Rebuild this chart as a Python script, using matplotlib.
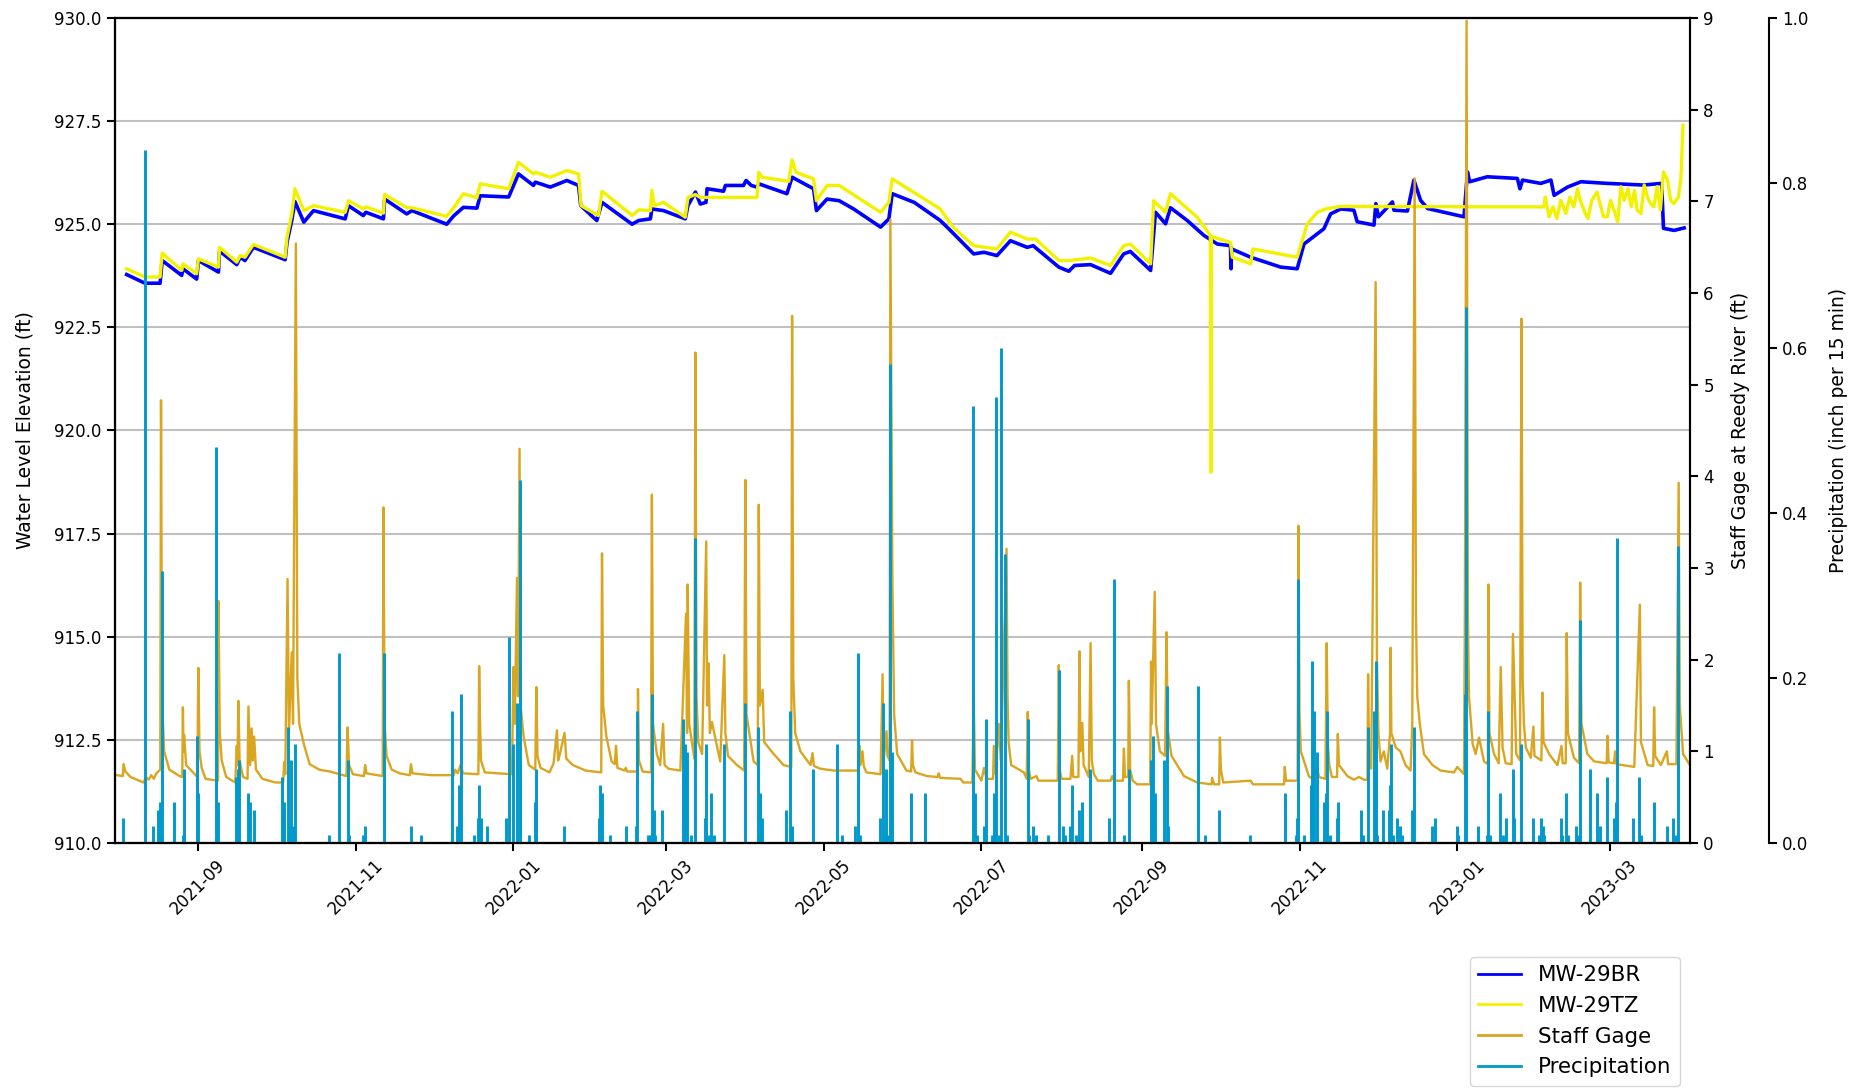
import matplotlib
matplotlib.use("Agg")
import matplotlib.pyplot as plt
import matplotlib.dates as mdates
from matplotlib.lines import Line2D
import pandas as pd

# MW-29BR water level elevation (ft)
mw29br = [
    ("2021-08-04 12:00", 923.78), ("2021-08-11 14:00", 923.57), ("2021-08-17 10:00", 923.57),
    ("2021-08-18 06:00", 924.12), ("2021-08-25 19:00", 923.76), ("2021-08-26 06:00", 923.92),
    ("2021-08-31 14:00", 923.67), ("2021-09-01 06:00", 924.12), ("2021-09-09 00:00", 923.84),
    ("2021-09-09 10:00", 924.35), ("2021-09-16 02:00", 924.02), ("2021-09-17 10:00", 924.20),
    ("2021-09-19 06:00", 924.12), ("2021-09-22 12:00", 924.44), ("2021-10-04 19:00", 924.14),
    ("2021-10-05 12:00", 924.56), ("2021-10-07 08:00", 925.09), ("2021-10-08 14:00", 925.55),
    ("2021-10-12 00:00", 925.05), ("2021-10-15 18:00", 925.33), ("2021-10-28 00:00", 925.13),
    ("2021-10-29 06:00", 925.45), ("2021-11-04 00:00", 925.21), ("2021-11-05 00:00", 925.29),
    ("2021-11-11 19:00", 925.13), ("2021-11-12 06:00", 925.61), ("2021-11-20 19:00", 925.25),
    ("2021-11-22 19:00", 925.33), ("2021-12-06 06:00", 925.00), ("2021-12-08 22:00", 925.20),
    ("2021-12-12 17:00", 925.41), ("2021-12-17 22:00", 925.39), ("2021-12-19 05:00", 925.69),
    ("2021-12-30 05:00", 925.66), ("2022-01-03 00:00", 926.22), ("2022-01-08 19:00", 925.94),
    ("2022-01-09 12:00", 926.02), ("2022-01-15 07:00", 925.90), ("2022-01-21 17:00", 926.06),
    ("2022-01-26 05:00", 925.94), ("2022-01-27 02:00", 925.45), ("2022-02-02 07:00", 925.09),
    ("2022-02-04 07:00", 925.53), ("2022-02-15 22:00", 925.00), ("2022-02-18 12:00", 925.09),
    ("2022-02-23 00:00", 925.13), ("2022-02-23 14:00", 925.37), ("2022-02-28 02:00", 925.33),
    ("2022-03-08 12:00", 925.13), ("2022-03-09 12:00", 925.45), ("2022-03-12 10:00", 925.78),
    ("2022-03-14 07:00", 925.49), ("2022-03-16 12:00", 925.53), ("2022-03-16 22:00", 925.86),
    ("2022-03-23 07:00", 925.80), ("2022-03-24 00:00", 925.94), ("2022-03-31 00:00", 925.94),
    ("2022-04-01 00:00", 926.06), ("2022-04-03 00:00", 925.94), ("2022-04-05 05:00", 925.90),
    ("2022-04-05 22:00", 925.98), ("2022-04-16 19:00", 925.74), ("2022-04-18 19:00", 926.14),
    ("2022-04-27 02:00", 925.86), ("2022-04-28 05:00", 925.33), ("2022-05-02 07:00", 925.61),
    ("2022-05-07 00:00", 925.57), ("2022-05-12 14:00", 925.37), ("2022-05-23 00:00", 924.93),
    ("2022-05-26 05:00", 925.13), ("2022-05-27 12:00", 925.74), ("2022-06-05 00:00", 925.53),
    ("2022-06-15 02:00", 925.09), ("2022-06-19 00:00", 924.85), ("2022-06-28 00:00", 924.28),
    ("2022-07-02 00:00", 924.32), ("2022-07-07 00:00", 924.24), ("2022-07-12 05:00", 924.60),
    ("2022-07-18 17:00", 924.44), ("2022-07-21 00:00", 924.48), ("2022-07-30 22:00", 923.96),
    ("2022-08-03 19:00", 923.86), ("2022-08-06 00:00", 924.00), ("2022-08-12 05:00", 924.02),
    ("2022-08-19 22:00", 923.81), ("2022-08-25 00:00", 924.28), ("2022-08-27 14:00", 924.34),
    ("2022-09-04 10:00", 923.88), ("2022-09-06 07:00", 925.29), ("2022-09-10 05:00", 925.01),
    ("2022-09-12 02:00", 925.40), ("2022-09-18 14:00", 925.09), ("2022-09-25 00:00", 924.73),
    ("2022-09-30 05:00", 924.52), ("2022-10-05 07:00", 924.48), ("2022-10-05 12:00", 923.92),
    ("2022-10-05 18:00", 924.40), ("2022-10-13 02:00", 924.20), ("2022-10-24 17:00", 923.96),
    ("2022-10-31 02:00", 923.92), ("2022-11-02 17:00", 924.52), ("2022-11-10 10:00", 924.89),
    ("2022-11-13 00:00", 925.25), ("2022-11-16 22:00", 925.37), ("2022-11-22 00:00", 925.34),
    ("2022-11-23 07:00", 925.06), ("2022-11-29 19:00", 924.98), ("2022-11-30 12:00", 925.50),
    ("2022-12-01 12:00", 925.18), ("2022-12-06 22:00", 925.54), ("2022-12-07 12:00", 925.34),
    ("2022-12-12 17:00", 925.32), ("2022-12-15 05:00", 926.07), ("2022-12-17 19:00", 925.58),
    ("2022-12-20 12:00", 925.38), ("2023-01-03 14:00", 925.18), ("2023-01-04 22:00", 926.27),
    ("2023-01-05 19:00", 926.03), ("2023-01-12 14:00", 926.15), ("2023-01-24 05:00", 926.11),
    ("2023-01-25 05:00", 925.86), ("2023-01-26 05:00", 926.07), ("2023-02-02 07:00", 925.99),
    ("2023-02-06 05:00", 926.07), ("2023-02-07 10:00", 925.70), ("2023-02-12 14:00", 925.90),
    ("2023-02-17 19:00", 926.03), ("2023-02-28 00:00", 925.99), ("2023-03-13 22:00", 925.95),
    ("2023-03-21 00:00", 925.99), ("2023-03-21 17:00", 924.90), ("2023-03-25 19:00", 924.85),
    ("2023-03-29 17:00", 924.91),
]

# MW-29TZ water level elevation (ft)
mw29tz = [
    ("2021-08-04 12:00", 923.92), ("2021-08-11 14:00", 923.72), ("2021-08-17 10:00", 923.72),
    ("2021-08-18 06:00", 924.30), ("2021-08-25 19:00", 923.88), ("2021-08-26 06:00", 924.04),
    ("2021-08-31 14:00", 923.80), ("2021-09-01 06:00", 924.16), ("2021-09-09 00:00", 923.96),
    ("2021-09-09 10:00", 924.44), ("2021-09-16 02:00", 924.08), ("2021-09-17 10:00", 924.24),
    ("2021-09-19 06:00", 924.20), ("2021-09-22 12:00", 924.51), ("2021-10-04 19:00", 924.20),
    ("2021-10-05 12:00", 924.68), ("2021-10-07 08:00", 925.25), ("2021-10-08 14:00", 925.86),
    ("2021-10-12 00:00", 925.33), ("2021-10-15 18:00", 925.45), ("2021-10-28 00:00", 925.29),
    ("2021-10-29 06:00", 925.57), ("2021-11-04 00:00", 925.37), ("2021-11-05 00:00", 925.42),
    ("2021-11-11 19:00", 925.27), ("2021-11-12 06:00", 925.72), ("2021-11-20 19:00", 925.40),
    ("2021-11-22 19:00", 925.40), ("2021-12-06 06:00", 925.19), ("2021-12-08 22:00", 925.40),
    ("2021-12-12 17:00", 925.74), ("2021-12-17 22:00", 925.64), ("2021-12-19 05:00", 925.98),
    ("2021-12-30 05:00", 925.86), ("2022-01-03 00:00", 926.50), ("2022-01-08 19:00", 926.22),
    ("2022-01-09 12:00", 926.26), ("2022-01-15 07:00", 926.14), ("2022-01-21 17:00", 926.30),
    ("2022-01-26 05:00", 926.22), ("2022-01-27 05:00", 925.45), ("2022-02-02 22:00", 925.21),
    ("2022-02-04 07:00", 925.80), ("2022-02-16 00:00", 925.21), ("2022-02-18 12:00", 925.35),
    ("2022-02-23 00:00", 925.33), ("2022-02-23 14:00", 925.82), ("2022-02-24 12:00", 925.45),
    ("2022-02-28 02:00", 925.53), ("2022-03-08 12:00", 925.17), ("2022-03-09 12:00", 925.65),
    ("2022-03-12 10:00", 925.72), ("2022-03-14 07:00", 925.65), ("2022-04-05 05:00", 925.65),
    ("2022-04-05 22:00", 926.26), ("2022-04-07 05:00", 926.14), ("2022-04-17 12:00", 926.04),
    ("2022-04-18 19:00", 926.56), ("2022-04-20 07:00", 926.26), ("2022-04-27 02:00", 926.10),
    ("2022-04-28 05:00", 925.57), ("2022-05-02 07:00", 925.94), ("2022-05-07 00:00", 925.94),
    ("2022-05-23 00:00", 925.29), ("2022-05-26 05:00", 925.53), ("2022-05-27 12:00", 926.10),
    ("2022-06-15 02:00", 925.37), ("2022-06-20 00:00", 924.93), ("2022-06-28 00:00", 924.48),
    ("2022-07-07 00:00", 924.40), ("2022-07-12 05:00", 924.81), ("2022-07-18 17:00", 924.64),
    ("2022-07-22 00:00", 924.64), ("2022-07-30 22:00", 924.12), ("2022-08-04 00:00", 924.12),
    ("2022-08-12 05:00", 924.18), ("2022-08-19 22:00", 924.00), ("2022-08-25 00:00", 924.48),
    ("2022-08-27 14:00", 924.52), ("2022-09-04 10:00", 924.04), ("2022-09-05 14:00", 925.57),
    ("2022-09-10 05:00", 925.29), ("2022-09-12 02:00", 925.74), ("2022-09-22 10:00", 925.17),
    ("2022-09-27 12:00", 924.73), ("2022-09-27 17:00", 918.99), ("2022-09-27 22:00", 924.70),
    ("2022-10-01 05:00", 924.64), ("2022-10-05 07:00", 924.56), ("2022-10-06 00:00", 924.20),
    ("2022-10-13 02:00", 924.04), ("2022-10-14 00:00", 924.40), ("2022-10-31 02:00", 924.20),
    ("2022-11-04 00:00", 925.01), ("2022-11-07 22:00", 925.29), ("2022-11-11 00:00", 925.37),
    ("2022-11-16 22:00", 925.43), ("2023-02-03 12:00", 925.42), ("2023-02-04 00:00", 925.66),
    ("2023-02-05 12:00", 925.18), ("2023-02-07 00:00", 925.42), ("2023-02-08 12:00", 925.14),
    ("2023-02-10 00:00", 925.58), ("2023-02-12 00:00", 925.26), ("2023-02-13 12:00", 925.66),
    ("2023-02-15 00:00", 925.42), ("2023-02-16 12:00", 925.86), ("2023-02-17 12:00", 925.58),
    ("2023-02-19 12:00", 925.26), ("2023-02-20 12:00", 925.14), ("2023-02-22 00:00", 925.58),
    ("2023-02-24 00:00", 925.78), ("2023-02-25 12:00", 925.42), ("2023-02-26 12:00", 925.18),
    ("2023-02-28 00:00", 925.18), ("2023-03-01 06:00", 925.58), ("2023-03-03 00:00", 925.26),
    ("2023-03-04 00:00", 925.06), ("2023-03-05 06:00", 925.91), ("2023-03-06 12:00", 925.58),
    ("2023-03-08 00:00", 925.86), ("2023-03-09 06:00", 925.42), ("2023-03-10 12:00", 925.82),
    ("2023-03-11 12:00", 925.34), ("2023-03-13 00:00", 925.26), ("2023-03-14 06:00", 925.95),
    ("2023-03-15 12:00", 925.66), ("2023-03-16 18:00", 925.50), ("2023-03-18 00:00", 925.42),
    ("2023-03-19 06:00", 925.91), ("2023-03-20 12:00", 925.34), ("2023-03-21 17:00", 926.27),
    ("2023-03-23 06:00", 926.07), ("2023-03-24 12:00", 925.58), ("2023-03-25 18:00", 925.50),
    ("2023-03-27 12:00", 925.66), ("2023-03-28 12:00", 926.15), ("2023-03-29 06:00", 927.40),
]

# Staff gage at Reedy River (ft)
staff_gage = [
    ("2021-07-31 16:00", 0.74), ("2021-08-03 00:00", 0.73), ("2021-08-03 08:00", 0.86),
    ("2021-08-04 00:00", 0.78), ("2021-08-06 00:00", 0.72), ("2021-08-11 00:00", 0.66),
    ("2021-08-12 00:00", 0.72), ("2021-08-13 00:00", 0.69), ("2021-08-14 00:00", 0.74),
    ("2021-08-15 00:00", 0.70), ("2021-08-16 00:00", 0.76), ("2021-08-17 12:00", 0.80),
    ("2021-08-17 19:00", 4.83), ("2021-08-18 04:00", 1.60), ("2021-08-19 00:00", 1.00),
    ("2021-08-21 00:00", 0.80), ("2021-08-25 00:00", 0.73), ("2021-08-26 00:00", 0.72),
    ("2021-08-26 06:00", 1.48), ("2021-08-26 12:00", 1.00), ("2021-08-26 17:00", 1.18),
    ("2021-08-27 12:00", 0.85), ("2021-08-31 20:00", 0.72), ("2021-09-01 05:00", 1.91),
    ("2021-09-01 16:00", 1.00), ("2021-09-02 12:00", 0.82), ("2021-09-04 00:00", 0.70),
    ("2021-09-08 20:00", 0.68), ("2021-09-09 00:00", 2.64), ("2021-09-09 12:00", 1.20),
    ("2021-09-10 06:00", 0.90), ("2021-09-12 00:00", 0.72), ("2021-09-15 12:00", 0.66),
    ("2021-09-16 02:00", 1.06), ("2021-09-16 08:00", 0.85), ("2021-09-16 17:00", 1.55),
    ("2021-09-17 04:00", 0.90), ("2021-09-18 12:00", 0.72), ("2021-09-20 06:00", 0.70),
    ("2021-09-20 14:00", 1.49), ("2021-09-21 06:00", 0.85), ("2021-09-21 20:00", 1.25),
    ("2021-09-22 06:00", 0.90), ("2021-09-22 19:00", 1.16), ("2021-09-23 12:00", 0.80),
    ("2021-09-26 00:00", 0.70), ("2021-10-01 00:00", 0.66), ("2021-10-04 00:00", 0.66),
    ("2021-10-04 10:00", 0.88), ("2021-10-04 20:00", 0.75), ("2021-10-05 17:00", 2.88),
    ("2021-10-06 06:00", 1.20), ("2021-10-07 08:00", 2.08), ("2021-10-07 20:00", 1.30),
    ("2021-10-08 22:00", 6.54), ("2021-10-09 12:00", 1.80), ("2021-10-10 06:00", 1.30),
    ("2021-10-12 00:00", 1.08), ("2021-10-14 06:00", 0.86), ("2021-10-18 00:00", 0.80),
    ("2021-10-22 00:00", 0.78), ("2021-10-28 12:00", 0.73), ("2021-10-28 22:00", 1.26),
    ("2021-10-29 12:00", 0.85), ("2021-10-31 00:00", 0.75), ("2021-11-04 06:00", 0.73),
    ("2021-11-04 17:00", 0.85), ("2021-11-05 06:00", 0.76), ("2021-11-11 12:00", 0.73),
    ("2021-11-11 19:00", 3.66), ("2021-11-12 06:00", 1.30), ("2021-11-13 00:00", 0.95),
    ("2021-11-15 00:00", 0.80), ("2021-11-18 00:00", 0.76), ("2021-11-22 00:00", 0.74),
    ("2021-11-22 10:00", 0.86), ("2021-11-23 00:00", 0.76), ("2021-11-30 00:00", 0.74),
    ("2021-12-09 00:00", 0.74), ("2021-12-09 12:00", 0.80), ("2021-12-10 12:00", 0.76),
    ("2021-12-11 17:00", 0.86), ("2021-12-12 12:00", 0.76), ("2021-12-18 12:00", 0.75),
    ("2021-12-18 19:00", 1.93), ("2021-12-19 02:00", 1.40), ("2021-12-19 12:00", 0.90),
    ("2021-12-21 00:00", 0.77), ("2021-12-31 12:00", 0.75), ("2022-01-01 02:00", 1.92),
    ("2022-01-01 14:00", 1.30), ("2022-01-02 10:00", 2.89), ("2022-01-02 20:00", 1.60),
    ("2022-01-03 10:00", 4.30), ("2022-01-03 20:00", 1.50), ("2022-01-05 00:00", 1.16),
    ("2022-01-07 00:00", 0.85), ("2022-01-09 12:00", 0.80), ("2022-01-09 22:00", 1.70),
    ("2022-01-10 08:00", 0.95), ("2022-01-11 12:00", 0.82), ("2022-01-15 00:00", 0.77),
    ("2022-01-16 14:00", 0.87), ("2022-01-17 21:00", 1.23), ("2022-01-18 08:00", 0.90),
    ("2022-01-19 00:00", 0.97), ("2022-01-20 19:00", 1.20), ("2022-01-21 12:00", 0.92),
    ("2022-01-24 00:00", 0.85), ("2022-01-29 00:00", 0.79), ("2022-02-04 00:00", 0.77),
    ("2022-02-04 07:00", 3.16), ("2022-02-04 18:00", 1.50), ("2022-02-06 00:00", 1.16),
    ("2022-02-08 00:00", 0.89), ("2022-02-09 06:00", 0.86), ("2022-02-09 17:00", 1.06),
    ("2022-02-10 06:00", 0.82), ("2022-02-13 00:00", 0.79), ("2022-02-13 12:00", 0.82),
    ("2022-02-14 00:00", 0.78), ("2022-02-18 00:00", 0.78), ("2022-02-18 05:00", 1.68),
    ("2022-02-18 14:00", 0.90), ("2022-02-20 00:00", 0.78), ("2022-02-23 06:00", 0.77),
    ("2022-02-23 14:00", 3.80), ("2022-02-24 00:00", 1.30), ("2022-02-25 12:00", 0.97),
    ("2022-02-26 19:00", 0.85), ("2022-02-27 22:00", 1.30), ("2022-02-28 12:00", 0.85),
    ("2022-03-02 00:00", 0.81), ("2022-03-06 14:00", 0.79), ("2022-03-08 19:00", 2.50),
    ("2022-03-09 04:00", 1.20), ("2022-03-09 10:00", 2.82), ("2022-03-10 00:00", 1.30),
    ("2022-03-12 00:00", 0.92), ("2022-03-12 10:00", 5.35), ("2022-03-12 20:00", 1.60),
    ("2022-03-13 12:00", 1.10), ("2022-03-15 00:00", 0.97), ("2022-03-16 14:00", 3.29),
    ("2022-03-16 22:00", 1.50), ("2022-03-17 12:00", 1.96), ("2022-03-18 00:00", 1.20),
    ("2022-03-18 19:00", 1.32), ("2022-03-22 00:00", 0.89), ("2022-03-23 14:00", 2.05),
    ("2022-03-24 00:00", 1.20), ("2022-03-25 00:00", 0.95), ("2022-03-28 12:00", 0.85),
    ("2022-03-31 06:00", 0.79), ("2022-03-31 17:00", 3.96), ("2022-04-01 04:00", 1.40),
    ("2022-04-03 22:00", 0.89), ("2022-04-05 12:00", 0.85), ("2022-04-05 22:00", 3.69),
    ("2022-04-06 08:00", 1.50), ("2022-04-07 10:00", 1.67), ("2022-04-08 00:00", 1.10),
    ("2022-04-11 17:00", 0.97), ("2022-04-15 12:00", 0.85), ("2022-04-18 12:00", 0.83),
    ("2022-04-18 19:00", 5.75), ("2022-04-19 06:00", 1.80), ("2022-04-20 00:00", 1.20),
    ("2022-04-22 00:00", 1.00), ("2022-04-25 22:00", 0.85), ("2022-04-26 17:00", 0.98),
    ("2022-04-27 06:00", 0.84), ("2022-04-29 17:00", 0.81), ("2022-05-04 22:00", 0.79),
    ("2022-05-14 12:00", 0.79), ("2022-05-14 22:00", 1.06), ("2022-05-15 06:00", 0.85),
    ("2022-05-16 00:00", 1.00), ("2022-05-16 12:00", 0.84), ("2022-05-17 12:00", 0.77),
    ("2022-05-23 00:00", 0.75), ("2022-05-23 19:00", 1.84), ("2022-05-24 04:00", 0.90),
    ("2022-05-25 07:00", 1.22), ("2022-05-25 16:00", 0.95), ("2022-05-26 12:00", 0.90),
    ("2022-05-26 19:00", 6.80), ("2022-05-27 14:00", 2.83), ("2022-05-28 06:00", 1.40),
    ("2022-05-29 10:00", 0.97), ("2022-06-02 00:00", 0.79), ("2022-06-03 20:00", 0.78),
    ("2022-06-04 04:00", 1.12), ("2022-06-04 12:00", 0.85), ("2022-06-05 12:00", 0.77),
    ("2022-06-10 00:00", 0.73), ("2022-06-14 00:00", 0.72), ("2022-06-14 12:00", 0.76),
    ("2022-06-15 00:00", 0.71), ("2022-06-22 22:00", 0.70), ("2022-06-24 00:00", 0.66),
    ("2022-06-27 12:00", 0.66), ("2022-06-28 00:00", 1.62), ("2022-06-28 12:00", 0.80),
    ("2022-07-01 00:00", 0.68), ("2022-07-02 00:00", 0.82), ("2022-07-03 00:00", 0.70),
    ("2022-07-05 12:00", 0.70), ("2022-07-05 19:00", 1.06), ("2022-07-06 12:00", 0.75),
    ("2022-07-07 17:00", 1.30), ("2022-07-08 12:00", 0.90), ("2022-07-10 17:00", 3.21),
    ("2022-07-11 02:00", 1.60), ("2022-07-11 12:00", 1.10), ("2022-07-12 12:00", 0.85),
    ("2022-07-17 10:00", 0.77), ("2022-07-18 12:00", 0.70), ("2022-07-18 22:00", 1.43),
    ("2022-07-19 08:00", 0.80), ("2022-07-20 00:00", 0.70), ("2022-07-22 07:00", 0.73),
    ("2022-07-23 00:00", 0.68), ("2022-07-30 12:00", 0.68), ("2022-07-30 22:00", 1.94),
    ("2022-07-31 06:00", 0.80), ("2022-08-01 00:00", 0.70), ("2022-08-04 10:00", 0.70),
    ("2022-08-05 02:00", 0.95), ("2022-08-05 12:00", 0.72), ("2022-08-07 12:00", 0.72),
    ("2022-08-07 22:00", 2.09), ("2022-08-08 06:00", 1.00), ("2022-08-09 00:00", 1.31),
    ("2022-08-09 12:00", 0.85), ("2022-08-11 12:00", 0.72), ("2022-08-12 05:00", 2.18),
    ("2022-08-12 16:00", 0.90), ("2022-08-13 12:00", 0.75), ("2022-08-15 00:00", 0.68),
    ("2022-08-19 22:00", 0.68), ("2022-08-20 14:00", 0.73), ("2022-08-21 06:00", 0.68),
    ("2022-08-24 18:00", 0.68), ("2022-08-25 02:00", 1.03), ("2022-08-25 12:00", 0.72),
    ("2022-08-26 18:00", 0.72), ("2022-08-27 00:00", 1.77), ("2022-08-27 12:00", 0.80),
    ("2022-08-28 12:00", 0.68), ("2022-08-30 05:00", 0.64), ("2022-09-04 06:00", 0.64),
    ("2022-09-04 14:00", 1.98), ("2022-09-04 20:00", 1.30), ("2022-09-06 00:00", 2.74),
    ("2022-09-06 12:00", 1.30), ("2022-09-08 00:00", 1.00), ("2022-09-10 00:00", 0.95),
    ("2022-09-10 14:00", 2.30), ("2022-09-11 00:00", 1.24), ("2022-09-12 12:00", 0.95),
    ("2022-09-17 07:00", 0.73), ("2022-09-22 10:00", 0.66), ("2022-09-28 00:00", 0.64),
    ("2022-09-28 05:00", 0.71), ("2022-09-29 00:00", 0.64), ("2022-09-30 22:00", 0.64),
    ("2022-10-01 05:00", 1.15), ("2022-10-01 14:00", 0.80), ("2022-10-02 12:00", 0.66),
    ("2022-10-13 02:00", 0.68), ("2022-10-14 00:00", 0.64), ("2022-10-26 00:00", 0.64),
    ("2022-10-26 07:00", 0.83), ("2022-10-26 18:00", 0.68), ("2022-10-31 06:00", 0.68),
    ("2022-10-31 14:00", 3.46), ("2022-11-01 00:00", 1.40), ("2022-11-01 12:00", 1.00),
    ("2022-11-04 14:00", 0.73), ("2022-11-05 22:00", 0.70), ("2022-11-07 22:00", 0.81),
    ("2022-11-08 12:00", 0.72), ("2022-11-11 00:00", 0.70), ("2022-11-11 12:00", 2.18),
    ("2022-11-11 22:00", 1.10), ("2022-11-12 12:00", 0.85), ("2022-11-13 12:00", 0.72),
    ("2022-11-15 12:00", 0.72), ("2022-11-15 19:00", 1.19), ("2022-11-16 06:00", 0.85),
    ("2022-11-19 12:00", 0.73), ("2022-11-22 00:00", 0.69), ("2022-11-24 00:00", 0.72),
    ("2022-11-25 22:00", 0.69), ("2022-11-27 06:00", 0.69), ("2022-11-27 12:00", 1.84),
    ("2022-11-27 22:00", 0.85), ("2022-11-28 17:00", 0.81), ("2022-11-30 10:00", 6.12),
    ("2022-11-30 22:00", 2.00), ("2022-12-01 12:00", 1.20), ("2022-12-02 07:00", 0.89),
    ("2022-12-03 14:00", 1.00), ("2022-12-04 22:00", 0.81), ("2022-12-06 00:00", 1.20),
    ("2022-12-06 05:00", 2.13), ("2022-12-06 12:00", 1.20), ("2022-12-08 05:00", 1.04),
    ("2022-12-10 00:00", 1.00), ("2022-12-12 00:00", 0.85), ("2022-12-13 22:00", 0.79),
    ("2022-12-14 14:00", 1.30), ("2022-12-15 12:00", 7.25), ("2022-12-16 00:00", 2.50),
    ("2022-12-16 12:00", 1.60), ("2022-12-17 12:00", 1.30), ("2022-12-19 02:00", 0.97),
    ("2022-12-22 10:00", 0.85), ("2022-12-25 14:00", 0.79), ("2022-12-30 17:00", 0.77),
    ("2023-01-01 00:00", 0.83), ("2023-01-03 14:00", 0.75), ("2023-01-03 22:00", 2.50),
    ("2023-01-04 14:00", 8.97), ("2023-01-05 02:00", 2.50), ("2023-01-05 12:00", 1.60),
    ("2023-01-06 22:00", 1.08), ("2023-01-08 02:00", 0.97), ("2023-01-09 10:00", 1.15),
    ("2023-01-11 07:00", 0.89), ("2023-01-12 20:00", 0.86), ("2023-01-13 00:00", 2.82),
    ("2023-01-13 10:00", 1.20), ("2023-01-15 05:00", 0.97), ("2023-01-17 00:00", 0.87),
    ("2023-01-17 19:00", 1.92), ("2023-01-18 12:00", 1.04), ("2023-01-19 17:00", 0.87),
    ("2023-01-22 00:00", 0.86), ("2023-01-22 12:00", 2.28), ("2023-01-23 19:00", 0.97),
    ("2023-01-25 06:00", 0.90), ("2023-01-25 19:00", 5.72), ("2023-01-26 06:00", 1.80),
    ("2023-01-26 18:00", 1.30), ("2023-01-27 12:00", 1.04), ("2023-01-29 10:00", 0.93),
    ("2023-01-30 10:00", 1.27), ("2023-01-30 20:00", 0.95), ("2023-02-02 12:00", 0.90),
    ("2023-02-02 22:00", 1.64), ("2023-02-03 08:00", 1.10), ("2023-02-05 12:00", 0.97),
    ("2023-02-08 17:00", 0.85), ("2023-02-10 07:00", 1.06), ("2023-02-10 18:00", 0.87),
    ("2023-02-11 22:00", 0.87), ("2023-02-12 07:00", 2.29), ("2023-02-12 18:00", 1.20),
    ("2023-02-15 02:00", 0.93), ("2023-02-17 02:00", 0.87), ("2023-02-17 12:00", 2.84),
    ("2023-02-18 00:00", 1.30), ("2023-02-20 07:00", 0.97), ("2023-02-22 22:00", 0.89),
    ("2023-02-27 18:00", 0.87), ("2023-02-28 02:00", 1.17), ("2023-02-28 12:00", 0.88),
    ("2023-03-02 14:00", 0.87), ("2023-03-03 00:00", 1.00), ("2023-03-03 12:00", 0.86),
    ("2023-03-10 10:00", 0.83), ("2023-03-12 14:00", 2.60), ("2023-03-13 00:00", 1.10),
    ("2023-03-15 14:00", 0.85), ("2023-03-17 18:00", 0.84), ("2023-03-18 02:00", 1.48),
    ("2023-03-18 12:00", 0.95), ("2023-03-20 17:00", 0.85), ("2023-03-23 00:00", 1.00),
    ("2023-03-23 12:00", 0.86), ("2023-03-26 17:00", 0.86), ("2023-03-27 14:00", 3.93),
    ("2023-03-28 00:00", 1.50), ("2023-03-29 07:00", 0.97), ("2023-03-31 22:00", 0.85),
]

# Precipitation (inch per 15 min)
precipitation = [
    ("2021-08-03 05:00", 0.03), ("2021-08-11 14:00", 0.84), ("2021-08-14 19:00", 0.02),
    ("2021-08-16 19:00", 0.04), ("2021-08-17 10:00", 0.05), ("2021-08-18 02:00", 0.33),
    ("2021-08-22 19:00", 0.05), ("2021-08-26 05:00", 0.01), ("2021-08-26 17:00", 0.09),
    ("2021-08-31 14:00", 0.13), ("2021-09-01 05:00", 0.06), ("2021-09-08 02:00", 0.48),
    ("2021-09-09 00:00", 0.05), ("2021-09-15 19:00", 0.08), ("2021-09-16 12:00", 0.09),
    ("2021-09-17 00:00", 0.10), ("2021-09-20 07:00", 0.06), ("2021-09-21 05:00", 0.05),
    ("2021-09-22 19:00", 0.04), ("2021-10-03 17:00", 0.08), ("2021-10-04 10:00", 0.05),
    ("2021-10-05 17:00", 0.14), ("2021-10-06 10:00", 0.02), ("2021-10-07 02:00", 0.10),
    ("2021-10-07 17:00", 0.02), ("2021-10-08 14:00", 0.12), ("2021-10-21 22:00", 0.01),
    ("2021-10-25 19:00", 0.23), ("2021-10-28 22:00", 0.10), ("2021-10-29 14:00", 0.01),
    ("2021-11-04 00:00", 0.01), ("2021-11-04 14:00", 0.02), ("2021-11-12 02:00", 0.23),
    ("2021-11-22 10:00", 0.02), ("2021-11-26 07:00", 0.01), ("2021-12-08 05:00", 0.16),
    ("2021-12-10 05:00", 0.02), ("2021-12-11 02:00", 0.07), ("2021-12-11 17:00", 0.18),
    ("2021-12-16 22:00", 0.01), ("2021-12-18 07:00", 0.03), ("2021-12-18 17:00", 0.07),
    ("2021-12-19 12:00", 0.03), ("2021-12-21 19:00", 0.02), ("2021-12-29 07:00", 0.03),
    ("2021-12-30 05:00", 0.25), ("2021-12-31 19:00", 0.12), ("2022-01-02 10:00", 0.17),
    ("2022-01-03 10:00", 0.44), ("2022-01-06 22:00", 0.01), ("2022-01-09 12:00", 0.05),
    ("2022-01-09 22:00", 0.09), ("2022-01-20 19:00", 0.02), ("2022-02-03 00:00", 0.03),
    ("2022-02-03 14:00", 0.07), ("2022-02-04 07:00", 0.06), ("2022-02-07 12:00", 0.01),
    ("2022-02-13 10:00", 0.02), ("2022-02-17 12:00", 0.02), ("2022-02-18 00:00", 0.16),
    ("2022-02-22 02:00", 0.01), ("2022-02-23 00:00", 0.01), ("2022-02-23 14:00", 0.18),
    ("2022-02-24 05:00", 0.04), ("2022-02-24 22:00", 0.01), ("2022-02-27 12:00", 0.04),
    ("2022-03-07 14:00", 0.15), ("2022-03-08 05:00", 0.12), ("2022-03-09 05:00", 0.11),
    ("2022-03-10 17:00", 0.01), ("2022-03-12 10:00", 0.37), ("2022-03-16 00:00", 0.03),
    ("2022-03-16 14:00", 0.12), ("2022-03-17 12:00", 0.01), ("2022-03-18 14:00", 0.06),
    ("2022-03-19 12:00", 0.01), ("2022-03-23 07:00", 0.12), ("2022-03-31 10:00", 0.17),
    ("2022-04-05 14:00", 0.14), ("2022-04-06 07:00", 0.06), ("2022-04-07 05:00", 0.03),
    ("2022-04-16 10:00", 0.04), ("2022-04-18 02:00", 0.16), ("2022-04-18 19:00", 0.02),
    ("2022-04-26 17:00", 0.09), ("2022-05-06 05:00", 0.12), ("2022-05-08 02:00", 0.01),
    ("2022-05-13 07:00", 0.02), ("2022-05-14 05:00", 0.23), ("2022-05-15 05:00", 0.01),
    ("2022-05-22 22:00", 0.03), ("2022-05-23 19:00", 0.17), ("2022-05-24 12:00", 0.01),
    ("2022-05-25 07:00", 0.09), ("2022-05-25 22:00", 0.01), ("2022-05-26 19:00", 0.58),
    ("2022-05-27 12:00", 0.11), ("2022-06-03 19:00", 0.06), ("2022-06-09 02:00", 0.06),
    ("2022-06-27 17:00", 0.53), ("2022-06-28 10:00", 0.06), ("2022-06-29 07:00", 0.01),
    ("2022-07-01 22:00", 0.02), ("2022-07-02 19:00", 0.15), ("2022-07-04 22:00", 0.01),
    ("2022-07-06 00:00", 0.06), ("2022-07-06 19:00", 0.54), ("2022-07-07 17:00", 0.01),
    ("2022-07-08 17:00", 0.60), ("2022-07-10 07:00", 0.35), ("2022-07-10 22:00", 0.01),
    ("2022-07-18 22:00", 0.15), ("2022-07-19 14:00", 0.01), ("2022-07-21 00:00", 0.02),
    ("2022-07-21 22:00", 0.01), ("2022-07-26 17:00", 0.01), ("2022-07-30 22:00", 0.21),
    ("2022-08-01 14:00", 0.02), ("2022-08-02 05:00", 0.01), ("2022-08-04 05:00", 0.02),
    ("2022-08-05 02:00", 0.07), ("2022-08-06 14:00", 0.01), ("2022-08-07 22:00", 0.04),
    ("2022-08-08 17:00", 0.05), ("2022-08-11 22:00", 0.09), ("2022-08-19 12:00", 0.03),
    ("2022-08-21 02:00", 0.32), ("2022-08-25 07:00", 0.01), ("2022-08-27 00:00", 0.09),
    ("2022-09-04 14:00", 0.10), ("2022-09-05 10:00", 0.13), ("2022-09-06 00:00", 0.06),
    ("2022-09-09 12:00", 0.10), ("2022-09-10 14:00", 0.19), ("2022-09-11 05:00", 0.02),
    ("2022-09-22 19:00", 0.19), ("2022-09-25 10:00", 0.01), ("2022-10-01 00:00", 0.04),
    ("2022-10-12 19:00", 0.01), ("2022-10-26 05:00", 0.06), ("2022-10-30 12:00", 0.01),
    ("2022-10-31 02:00", 0.03), ("2022-10-31 14:00", 0.32), ("2022-11-02 17:00", 0.01),
    ("2022-11-05 07:00", 0.07), ("2022-11-05 17:00", 0.22), ("2022-11-06 14:00", 0.16),
    ("2022-11-07 22:00", 0.11), ("2022-11-10 14:00", 0.05), ("2022-11-11 02:00", 0.06),
    ("2022-11-11 17:00", 0.16), ("2022-11-12 14:00", 0.01), ("2022-11-15 07:00", 0.03),
    ("2022-11-15 19:00", 0.05), ("2022-11-24 22:00", 0.04), ("2022-11-25 17:00", 0.01),
    ("2022-11-27 12:00", 0.14), ("2022-11-29 19:00", 0.16), ("2022-11-30 10:00", 0.22),
    ("2022-12-01 02:00", 0.01), ("2022-12-03 10:00", 0.04), ("2022-12-05 14:00", 0.04),
    ("2022-12-06 00:00", 0.07), ("2022-12-06 12:00", 0.12), ("2022-12-07 07:00", 0.01),
    ("2022-12-08 19:00", 0.03), ("2022-12-09 19:00", 0.02), ("2022-12-10 19:00", 0.01),
    ("2022-12-14 14:00", 0.04), ("2022-12-15 05:00", 0.14), ("2022-12-22 02:00", 0.02),
    ("2022-12-23 10:00", 0.03), ("2022-12-31 19:00", 0.02), ("2023-01-01 07:00", 0.01),
    ("2023-01-03 22:00", 0.18), ("2023-01-04 12:00", 0.65), ("2023-01-09 00:00", 0.02),
    ("2023-01-12 14:00", 0.01), ("2023-01-13 00:00", 0.16), ("2023-01-13 14:00", 0.01),
    ("2023-01-17 12:00", 0.06), ("2023-01-18 19:00", 0.01), ("2023-01-19 17:00", 0.03),
    ("2023-01-22 10:00", 0.09), ("2023-01-22 22:00", 0.03), ("2023-01-25 12:00", 0.12),
    ("2023-01-30 07:00", 0.03), ("2023-02-01 14:00", 0.01), ("2023-02-02 12:00", 0.03),
    ("2023-02-03 02:00", 0.02), ("2023-02-03 12:00", 0.01), ("2023-02-10 00:00", 0.03),
    ("2023-02-10 14:00", 0.01), ("2023-02-12 05:00", 0.06), ("2023-02-12 19:00", 0.01),
    ("2023-02-15 19:00", 0.02), ("2023-02-16 19:00", 0.01), ("2023-02-17 07:00", 0.27),
    ("2023-02-21 07:00", 0.09), ("2023-02-23 22:00", 0.06), ("2023-02-25 05:00", 0.02),
    ("2023-02-27 19:00", 0.08), ("2023-03-02 10:00", 0.03), ("2023-03-03 07:00", 0.05),
    ("2023-03-03 22:00", 0.37), ("2023-03-10 02:00", 0.03), ("2023-03-12 07:00", 0.08),
    ("2023-03-12 22:00", 0.01), ("2023-03-17 22:00", 0.05), ("2023-03-23 00:00", 0.02),
    ("2023-03-25 14:00", 0.03), ("2023-03-26 12:00", 0.01), ("2023-03-27 05:00", 0.36),
]


def split(pairs):
    t = pd.to_datetime([p[0] for p in pairs])
    v = [p[1] for p in pairs]
    return t, v


br_t, br_v = split(mw29br)
tz_t, tz_v = split(mw29tz)
sg_t, sg_v = split(staff_gage)
pr_t, pr_v = split(precipitation)

c_br = "#0000ff"
c_tz = "#f2f200"
c_sg = "#daa520"
c_pr = "#0099cc"

plt.rcParams["font.size"] = 12
fig = plt.figure(figsize=(18.64, 10.89), dpi=100)
ax1 = fig.add_axes([0.0617, 0.2259, 0.8450, 0.7576])

ax1.plot(br_t, br_v, color=c_br, lw=2.6)
ax1.plot(tz_t, tz_v, color=c_tz, lw=2.4)
ax1.set_ylim(910, 930)
ax1.set_yticks([910, 912.5, 915, 917.5, 920, 922.5, 925, 927.5, 930])
ax1.grid(axis="y", color="#c0c0c0", lw=1.5)
ax1.set_axisbelow(True)
ax1.set_ylabel("Water Level Elevation (ft)", fontsize=13.5, labelpad=14)
ax1.set_xlim(pd.Timestamp("2021-07-31"), pd.Timestamp("2023-04-01"))
ax1.xaxis.set_major_locator(mdates.MonthLocator(bymonth=[1, 3, 5, 7, 9, 11]))
ax1.xaxis.set_major_formatter(mdates.DateFormatter("%Y-%m"))
plt.setp(ax1.get_xticklabels(), rotation=45)

ax2 = ax1.twinx()
ax2.plot(sg_t, sg_v, color=c_sg, lw=1.7)
ax2.set_ylim(0, 9)
ax2.set_yticks(range(0, 10))
ax2.set_ylabel("Staff Gage at Reedy River (ft)", fontsize=13.5, labelpad=12)

ax3 = ax1.twinx()
ax3.spines["right"].set_position(("axes", 1.05))
ax3.vlines(pr_t, 0, pr_v, color=c_pr, lw=2.1)
ax3.set_ylim(0, 1)
ax3.set_ylabel("Precipitation (inch per 15 min)", fontsize=13.5, labelpad=15)

for ax in (ax1, ax2, ax3):
    for s in ax.spines.values():
        s.set_linewidth(1.5)
    ax.tick_params(length=6, width=1.5, labelsize=12)

handles = [
    Line2D([], [], color=c_br, lw=2),
    Line2D([], [], color=c_tz, lw=2),
    Line2D([], [], color=c_sg, lw=2),
    Line2D([], [], color=c_pr, lw=2),
]
labels = ["MW-29BR", "MW-29TZ", "Staff Gage", "Precipitation"]
fig.legend(handles, labels, loc="upper right", bbox_to_anchor=(0.9015, 0.1215),
           borderaxespad=0, fontsize=15.4)

fig.savefig("out.png", dpi=100)
